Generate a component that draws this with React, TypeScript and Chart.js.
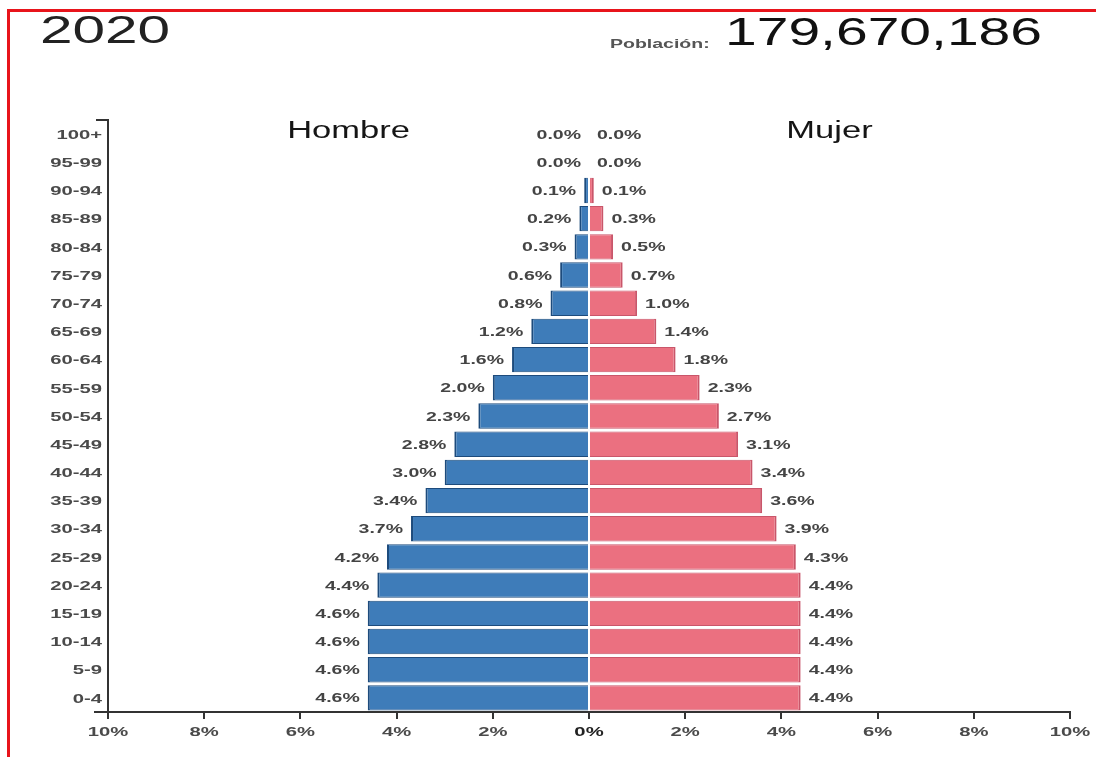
import React, { useEffect, useRef } from "react";
import { Chart, registerables } from "chart.js";

Chart.register(...registerables);

const ageGroups = ["100+", "95-99", "90-94", "85-89", "80-84", "75-79", "70-74", "65-69", "60-64", "55-59", "50-54", "45-49", "40-44", "35-39", "30-34", "25-29", "20-24", "15-19", "10-14", "5-9", "0-4"];
const malePct = [0.0, 0.0, 0.1, 0.2, 0.3, 0.6, 0.8, 1.2, 1.6, 2.0, 2.3, 2.8, 3.0, 3.4, 3.7, 4.2, 4.4, 4.6, 4.6, 4.6, 4.6];
const femalePct = [0.0, 0.0, 0.1, 0.3, 0.5, 0.7, 1.0, 1.4, 1.8, 2.3, 2.7, 3.1, 3.4, 3.6, 3.9, 4.3, 4.4, 4.4, 4.4, 4.4, 4.4];
const xTickValues = [-10, -8, -6, -4, -2, 0, 2, 4, 6, 8, 10];

const yearLabel = "2020";
const populationLabel = "Población:";
const populationValue = "179,670,186";
const maleName = "Hombre";
const femaleName = "Mujer";

const SX = 1.5;
const FONT = "'Liberation Sans', Arial, sans-serif";

function stretchText(ctx: CanvasRenderingContext2D, text: string, x: number, y: number, font: string, color: string, align: CanvasTextAlign, baseline: CanvasTextBaseline = "alphabetic") {
  ctx.save();
  ctx.font = font;
  ctx.fillStyle = color;
  ctx.textAlign = align;
  ctx.textBaseline = baseline;
  ctx.translate(x, y);
  ctx.scale(SX, 1);
  ctx.fillText(text, 0, 0);
  ctx.restore();
}

const pyramidPlugin = {
  id: "pyramidDecor",
  afterDraw(chart: any) {
    const ctx: CanvasRenderingContext2D = chart.ctx;
    const area = chart.chartArea;
    const xs = chart.scales.x;
    const ys = chart.scales.y;

    // outer ticks of axes
    ctx.save();
    ctx.strokeStyle = "#333";
    ctx.lineWidth = 2;
    ctx.beginPath();
    ctx.moveTo(area.left - 12, area.top);
    ctx.lineTo(area.left, area.top);
    ctx.moveTo(area.left - 14, area.bottom);
    ctx.lineTo(area.left, area.bottom);
    ctx.stroke();
    ctx.restore();

    // y tick labels
    ageGroups.forEach((g, i) => {
      stretchText(ctx, g, area.left - 6, ys.getPixelForValue(i) + 1, `bold 13.5px ${FONT}`, "#4a4a4a", "right", "middle");
    });

    // x tick labels
    xTickValues.forEach((v) => {
      stretchText(ctx, Math.abs(v) + "%", xs.getPixelForValue(v), area.bottom + 20, `bold 13.5px ${FONT}`, v === 0 ? "#222" : "#4a4a4a", "center", "middle");
    });

    // value labels
    const mMeta = chart.getDatasetMeta(0);
    const fMeta = chart.getDatasetMeta(1);
    mMeta.data.forEach((bar: any, i: number) => {
      const left = Math.min(bar.x, bar.base);
      stretchText(ctx, malePct[i].toFixed(1) + "%", left - 8, bar.y + 1, `bold 13px ${FONT}`, "#444", "right", "middle");
    });
    fMeta.data.forEach((bar: any, i: number) => {
      const right = Math.max(bar.x, bar.base);
      stretchText(ctx, femalePct[i].toFixed(1) + "%", right + 8, bar.y + 1, `bold 13px ${FONT}`, "#444", "left", "middle");
    });

    // series names
    stretchText(ctx, maleName, xs.getPixelForValue(-5), area.top + 18, `23px ${FONT}`, "#151515", "center");
    stretchText(ctx, femaleName, xs.getPixelForValue(5), area.top + 18, `23px ${FONT}`, "#151515", "center");

    // header
    stretchText(ctx, yearLabel, 40, 43, `39px ${FONT}`, "#222", "left");
    stretchText(ctx, populationLabel, 610, 48, `bold 13px ${FONT}`, "#555", "left");
    stretchText(ctx, populationValue, 725, 45, `38px ${FONT}`, "#111", "left");

    // red frame
    ctx.save();
    ctx.fillStyle = "#e8141b";
    ctx.fillRect(7, 9, chart.width - 7, 3);
    ctx.fillRect(7, 9, 3, chart.height - 9);
    ctx.restore();
  },
};

export default function App() {
  const ref = useRef<HTMLCanvasElement | null>(null);

  useEffect(() => {
    if (!ref.current) return;
    const chart = new Chart(ref.current, {
      type: "bar",
      data: {
        labels: ageGroups,
        datasets: [
          {
            label: maleName,
            data: malePct.map((v) => -v),
            backgroundColor: "#3e7cb9",
            borderColor: "#1d4b7c",
            borderWidth: { left: 2, top: 1, bottom: 1, right: 0 } as any,
            borderSkipped: false,
            barPercentage: 0.9,
            categoryPercentage: 1,
          },
          {
            label: femaleName,
            data: femalePct,
            backgroundColor: "#eb7080",
            borderColor: "#c9566a",
            borderWidth: { right: 2, top: 1, bottom: 1, left: 0 } as any,
            borderSkipped: false,
            barPercentage: 0.9,
            categoryPercentage: 1,
          },
        ],
      },
      options: {
        indexAxis: "y",
        responsive: false,
        maintainAspectRatio: false,
        animation: false,
        devicePixelRatio: 1,
        layout: { padding: { top: 120, right: 26, bottom: 0, left: 0 } },
        plugins: { legend: { display: false }, tooltip: { enabled: false }, title: { display: false } },
        scales: {
          x: {
            type: "linear",
            min: -10,
            max: 10,
            stacked: true,
            ticks: { display: false, stepSize: 2 },
            grid: { drawOnChartArea: false, drawTicks: true, tickLength: 7, color: "#333", lineWidth: 2 },
            border: { display: true, color: "#333", width: 2 },
            afterFit: (s: any) => { s.height = 45; },
          },
          y: {
            type: "category",
            stacked: true,
            offset: true,
            ticks: { display: false },
            grid: { display: true, drawOnChartArea: false, drawTicks: false },
            border: { display: true, color: "#333", width: 2 },
            afterFit: (s: any) => { s.width = 108; },
          },
        },
      },
      plugins: [pyramidPlugin],
    });
    return () => chart.destroy();
  }, []);

  return (
    <div style={{ position: "absolute", left: 0, top: 0, width: 1096, height: 757, background: "#fff" }}>
      <canvas ref={ref} width={1096} height={757} style={{ display: "block" }} />
    </div>
  );
}
